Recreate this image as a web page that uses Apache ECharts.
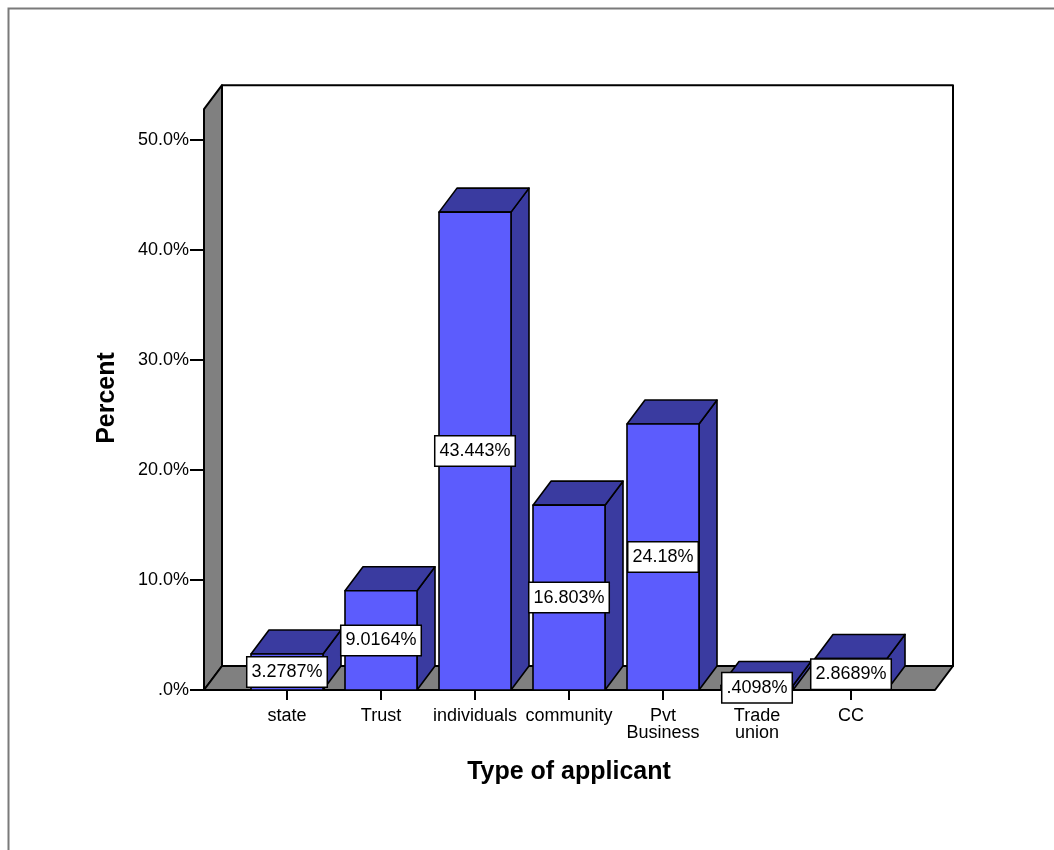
<!DOCTYPE html>
<html>
<head>
<meta charset="utf-8">
<title>Type of applicant</title>
<script src="https://cdn.jsdelivr.net/npm/echarts@6/dist/echarts.min.js"></script>
<style>
  html, body { margin: 0; padding: 0; background: #ffffff; }
  #chart { width: 1054px; height: 850px; }
</style>
</head>
<body>
<div id="chart"></div>
<script>
// Applicant types and their share of all applications (percent)
const categories = ['state', 'Trust', 'individuals', 'community', 'Pvt\nBusiness', 'Trade\nunion', 'CC'];
const percents = [3.2787, 9.0164, 43.443, 16.803, 24.18, 0.4098, 2.8689];

// Value axis range and step
const yMin = 0;
const yMax = 50;
const yStep = 10;
// Height of the chart walls, in axis units
const wallTop = 52.8;

const FONT = '"Liberation Sans", Arial, sans-serif';
const FRONT = '#5c5cfd';
const SHADE = '#3a3ba0';
const WALL = '#808080';
const EDGE = '#000000';

// Oblique projection used for the 3D depth
const DX = 18;
const DY = 24;

// SPSS-style value text: five significant digits, no leading zero
function pctText(v) {
  let s = String(parseFloat(v.toPrecision(5)));
  if (s.startsWith('0.')) s = s.slice(1);
  return s + '%';
}

function axisText(v) {
  return v === 0 ? '.0%' : v.toFixed(1) + '%';
}

const chart = echarts.init(document.getElementById('chart'), null, { renderer: 'canvas' });

// Walls and floor of the 3D box
function renderWalls(params, api) {
  const cs = params.coordSys;
  const y0 = api.coord([0, 0])[1];
  const yt = api.coord([0, wallTop])[1];
  const xl = cs.x - 36;
  const xr = cs.x + cs.width + 37;
  const line = { stroke: EDGE, lineWidth: 2, lineJoin: 'round' };
  return {
    type: 'group',
    children: [
      {
        type: 'rect',
        shape: { x: xl + DX, y: yt - DY, width: xr - xl, height: y0 - yt },
        style: Object.assign({ fill: '#ffffff' }, line)
      },
      {
        type: 'polygon',
        shape: { points: [[xl, y0], [xl, yt], [xl + DX, yt - DY], [xl + DX, y0 - DY]] },
        style: Object.assign({ fill: WALL }, line)
      },
      {
        type: 'polygon',
        shape: { points: [[xl, y0], [xl + DX, y0 - DY], [xr + DX, y0 - DY], [xr, y0]] },
        style: Object.assign({ fill: WALL }, line)
      }
    ]
  };
}

// One 3D column per category
function renderBar(params, api) {
  const i = api.value(0);
  const v = api.value(1);
  const base = api.coord([i, 0]);
  const top = api.coord([i, v]);
  const w = api.size([1, 0])[0] * 0.766;
  const x0 = base[0] - w / 2;
  const x1 = base[0] + w / 2;
  const yb = base[1];
  const yt = top[1];
  const line = { stroke: EDGE, lineWidth: 1.6, lineJoin: 'round' };
  return {
    type: 'group',
    children: [
      {
        type: 'polygon',
        shape: { points: [[x1, yb], [x1, yt], [x1 + DX, yt - DY], [x1 + DX, yb - DY]] },
        style: Object.assign({ fill: SHADE }, line)
      },
      {
        type: 'polygon',
        shape: { points: [[x0, yt], [x0 + DX, yt - DY], [x1 + DX, yt - DY], [x1, yt]] },
        style: Object.assign({ fill: SHADE }, line)
      },
      {
        type: 'rect',
        shape: { x: x0, y: yt, width: w, height: yb - yt },
        style: Object.assign({ fill: FRONT }, line)
      }
    ]
  };
}

// Boxed value label at mid-height of each column
function renderLabel(params, api) {
  const i = api.value(0);
  const v = api.value(1);
  const p = api.coord([i, v / 2]);
  return {
    type: 'text',
    x: p[0],
    y: p[1],
    style: {
      text: pctText(v),
      fill: '#000000',
      font: '18px ' + FONT,
      lineHeight: 18,
      align: 'center',
      verticalAlign: 'middle',
      backgroundColor: '#ffffff',
      borderColor: '#000000',
      borderWidth: 1.5,
      padding: [6, 4, 5, 4]
    }
  };
}

const barData = percents.map((v, i) => [i, v]);

chart.setOption({
  animation: false,
  backgroundColor: '#ffffff',
  grid: { left: 240, right: 156, top: 140, bottom: 160 },
  xAxis: {
    type: 'category',
    data: categories,
    name: 'Type of applicant',
    nameLocation: 'middle',
    nameGap: 70,
    nameTextStyle: { fontFamily: FONT, fontSize: 25, fontWeight: 'bold', color: '#000' },
    axisLine: { show: false },
    axisTick: { show: true, alignWithLabel: true, length: 10, lineStyle: { color: '#000', width: 2 } },
    axisLabel: { fontFamily: FONT, fontSize: 18, lineHeight: 17, color: '#000', margin: 18, interval: 0 },
    splitLine: { show: false }
  },
  yAxis: {
    type: 'value',
    min: yMin,
    max: yMax,
    interval: yStep,
    offset: 36,
    name: 'Percent',
    nameLocation: 'middle',
    nameRotate: 90,
    nameGap: 84,
    nameTextStyle: {
      fontFamily: FONT, fontSize: 25, fontWeight: 'bold', color: '#000',
      padding: [0, 0, 0, 34]
    },
    axisLine: { show: false },
    axisTick: { show: true, inside: false, length: 14, lineStyle: { color: '#000', width: 2 } },
    axisLabel: { fontFamily: FONT, fontSize: 18, color: '#000', margin: 15, formatter: axisText },
    splitLine: { show: false }
  },
  graphic: [
    {
      type: 'rect',
      z: -10,
      shape: { x: 8.5, y: 8.5, width: 1100, height: 900 },
      style: { fill: 'none', stroke: '#7a7a7a', lineWidth: 2 }
    }
  ],
  series: [
    {
      type: 'custom',
      name: 'walls',
      z: 1,
      silent: true,
      renderItem: renderWalls,
      data: [[0, 0]]
    },
    {
      type: 'custom',
      name: 'Percent',
      z: 2,
      renderItem: renderBar,
      encode: { x: 0, y: 1 },
      data: barData
    },
    {
      type: 'custom',
      name: 'labels',
      z: 3,
      silent: true,
      renderItem: renderLabel,
      encode: { x: 0, y: 1 },
      data: barData
    }
  ]
});
</script>
</body>
</html>
